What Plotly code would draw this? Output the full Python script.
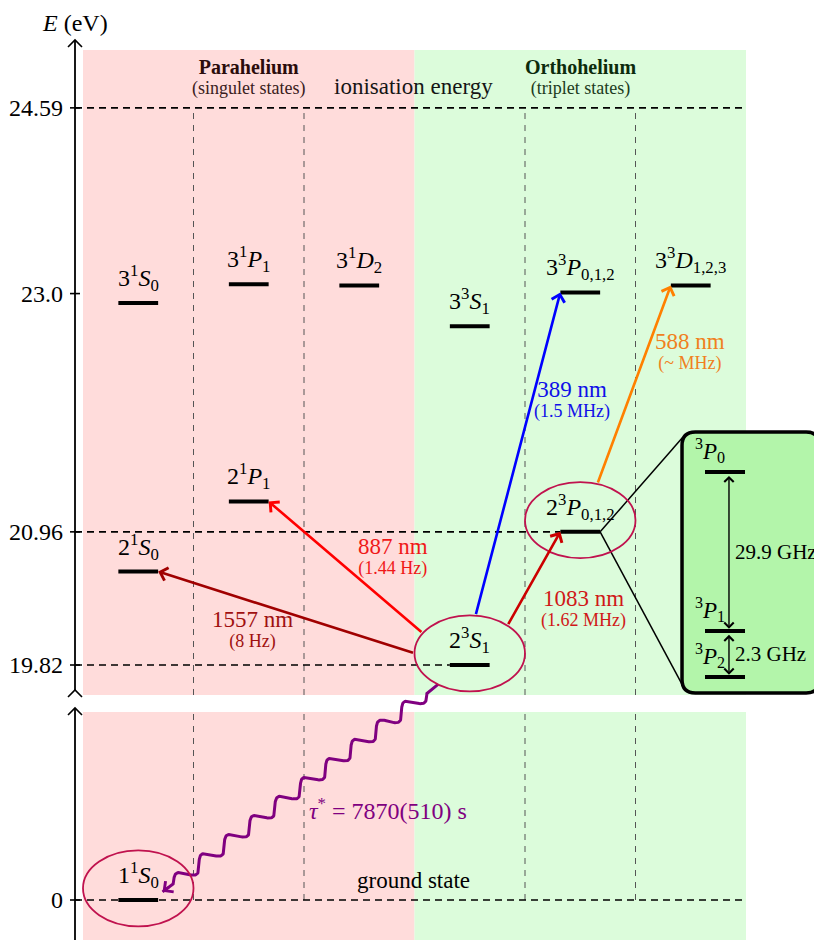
import numpy as np
import plotly.graph_objects as go

# ---------------- data ----------------
tick_energies = [24.59, 23.0, 20.96, 19.82, 0.0]
tick_labels = ["24.59", "23.0", "20.96", "19.82", "0"]

level_keys = ["11S0", "21S0", "31S0", "21P1", "31P1", "31D2",
              "23S1", "33S1", "23P", "33P", "33D"]
level_names = ["1<sup>1</sup><i>S</i><sub>0</sub>", "2<sup>1</sup><i>S</i><sub>0</sub>",
               "3<sup>1</sup><i>S</i><sub>0</sub>", "2<sup>1</sup><i>P</i><sub>1</sub>",
               "3<sup>1</sup><i>P</i><sub>1</sub>", "3<sup>1</sup><i>D</i><sub>2</sub>",
               "2<sup>3</sup><i>S</i><sub>1</sub>", "3<sup>3</sup><i>S</i><sub>1</sub>",
               "2<sup>3</sup><i>P</i><sub>0,1,2</sub>", "3<sup>3</sup><i>P</i><sub>0,1,2</sub>",
               "3<sup>3</sup><i>D</i><sub>1,2,3</sub>"]
level_column = [0, 0, 0, 1, 1, 2, 3, 3, 4, 4, 5]
level_energy = [0.0, 20.62, 22.92, 21.22, 23.08, 23.07, 19.82, 22.72, 20.96, 23.01, 23.07]

trans_from = ["23S1", "23S1", "23S1", "23P", "23S1"]
trans_to = ["21S0", "21P1", "33P", "33D", "23P"]
trans_nm = ["1557 nm", "887 nm", "389 nm", "588 nm", "1083 nm"]
trans_linewidth = ["(8 Hz)", "(1.44 Hz)", "(1.5 MHz)", "(~ MHz)", "(1.62 MHz)"]
trans_color = ["#a00000", "#ff0000", "#0000ff", "#ff8000", "#cc0000"]

circled_levels = ["23S1", "23P", "11S0"]

fine_names = ["<sup>3</sup><i>P</i><sub>0</sub>", "<sup>3</sup><i>P</i><sub>1</sub>",
              "<sup>3</sup><i>P</i><sub>2</sub>"]
fine_splits = ["29.9 GHz", "2.3 GHz"]

lifetime_text = "<i>τ</i><sup>*</sup> = 7870(510) s"
column_headers = ["Parahelium", "Orthohelium"]
column_subheaders = ["(singulet states)", "(triplet states)"]

# ---------------- layout constants ----------------
W, H = 822, 940
OFF = 8                         # page body margin in the browser
SX, SY = 110.5, 116.8           # px per column unit / px per display unit
LOWER_ZERO = 17.808             # display position of E = 0 (broken axis)
X_RANGE = [(OFF - 83) / SX, (OFF + W - 83) / SX]
Y_RANGE = [19.82 - (H + OFF - 665) / SY, 19.82 + (665 - OFF) / SY]
AXIS_PX = 75
AXIS_X = (AXIS_PX - 83) / SX
UP_TOP, UP_BOT = 25.085, 19.563
LO_TOP = 19.418
HALF_BAR = 0.18
FONT = "Liberation Serif, Times New Roman, serif"
CRIMSON = "#c0124e"
PURPLE = "#800080"

trans_start_angle = [180, 148, 84, 72, 47]
trans_end_side = [1, 1, -1, -1, -1]
trans_label_xy = [(1.538, 20.197), (2.805, 20.822), (4.425, 22.174),
                  (5.493, 22.585), (4.525, 20.377)]
trans_text_color = ["#a01010", "#f01818", "#1010e8", "#f08020", "#d01818"]

inset_y = [21.472, 20.111, 19.717]
inset_x = (5.629, 5.991)


def px(p):
    return (p - OFF) / W


def disp(e):
    return e if e > 15 else LOWER_ZERO + e


lev = {k: (c, disp(e)) for k, c, e in zip(level_keys, level_column, level_energy)}

fig = go.Figure()
shapes = []
ann = []

# backgrounds
for (x0, x1, col) in [(0, 3, "#ffdcdb"), (3, 6, "#dcfcdb")]:
    shapes.append(dict(type="rect", xref="x", yref="y", x0=x0, x1=x1, y0=UP_BOT, y1=UP_TOP,
                       fillcolor=col, line=dict(width=0), layer="below"))
    shapes.append(dict(type="rect", xref="x", yref="y", x0=x0, x1=x1, y0=Y_RANGE[0] - 1, y1=LO_TOP,
                       fillcolor=col, line=dict(width=0), layer="below"))

# column separators
for xc in [1, 2, 4, 5]:
    for (ya, yb) in [(UP_BOT, 24.59), (LOWER_ZERO, LO_TOP)]:
        shapes.append(dict(type="line", xref="x", yref="y", x0=xc, x1=xc, y0=ya, y1=yb,
                           line=dict(color="#555555", width=1, dash="6px,6px"), layer="below"))

# horizontal dashed reference lines
hlines = [(24.59, 6.0), (disp(20.96), lev["23P"][0] + 0.5 - HALF_BAR),
          (disp(19.82), lev["23S1"][0] + 0.5 - HALF_BAR), (disp(0.0), 6.0)]
for y, xe in hlines:
    shapes.append(dict(type="line", xref="x", yref="y", x0=AXIS_X, x1=xe, y0=y, y1=y,
                       line=dict(color="black", width=1.6, dash="7px,5px"), layer="below"))

# connection lines to inset
c23p, y23p = lev["23P"]
xr = c23p + 0.5 + HALF_BAR
for yb in [21.772, 19.64]:
    shapes.append(dict(type="line", xref="x", yref="y", x0=xr, x1=5.43, y0=y23p, y1=yb,
                       line=dict(color="black", width=1.5), layer="below"))

# inset box (rounded)
bx0, bx1, by0, by1, rx, ry = 5.421, 6.665, 19.580, 21.815, 0.12, 0.115
path = (f"M {bx0+rx},{by1} L {bx1-rx},{by1} Q {bx1},{by1} {bx1},{by1-ry} "
        f"L {bx1},{by0+ry} Q {bx1},{by0} {bx1-rx},{by0} L {bx0+rx},{by0} "
        f"Q {bx0},{by0} {bx0},{by0+ry} L {bx0},{by1-ry} Q {bx0},{by1} {bx0+rx},{by1} Z")
shapes.append(dict(type="path", xref="x", yref="y", path=path, fillcolor="#b3f5aa",
                   line=dict(color="black", width=3.5), layer="below"))

# energy level bars
xs, ys = [], []
for k in level_keys:
    c, y = lev[k]
    xs += [c + 0.5 - HALF_BAR, c + 0.5 + HALF_BAR, None]
    ys += [y, y, None]
for y in inset_y:
    xs += [inset_x[0], inset_x[1], None]
    ys += [y, y, None]
fig.add_trace(go.Scatter(x=xs, y=ys, mode="lines", line=dict(color="black", width=4),
                         hoverinfo="skip", showlegend=False))

# level labels
for k, name in zip(level_keys, level_names):
    c, y = lev[k]
    ann.append(dict(x=c + 0.5, y=y, text=name, showarrow=False, yshift=25,
                    font=dict(size=24, color="black")))

# ellipses
for k in circled_levels:
    c, y = lev[k]
    shapes.append(dict(type="circle", xref="x", yref="y", x0=c, x1=c + 1,
                       y0=y + 0.1 - 0.325, y1=y + 0.1 + 0.325,
                       line=dict(color=CRIMSON, width=1.8), layer="above"))

# transitions
for f, t, nm, lw, col, tcol, ang, side, (lx, ly) in zip(
        trans_from, trans_to, trans_nm, trans_linewidth, trans_color, trans_text_color,
        trans_start_angle, trans_end_side, trans_label_xy):
    cf, yf = lev[f]
    ct, yt = lev[t]
    sx = cf + 0.5 + 0.5 * np.cos(np.radians(ang))
    sy = yf + 0.1 + 0.325 * np.sin(np.radians(ang))
    ex = ct + 0.5 + side * HALF_BAR
    ann.append(dict(x=ex, y=yt, ax=sx, ay=sy, xref="x", yref="y", axref="x", ayref="y",
                    text="", showarrow=True, arrowhead=4, arrowsize=1, arrowwidth=2.6,
                    arrowcolor=col, standoff=0))
    ann.append(dict(x=lx, y=ly, yshift=-9, showarrow=False, font=dict(size=15, color=tcol),
                    text=(f"<span style='font-size:23px'>{nm}</span><br>"
                          f"<span style='font-size:18px'>{lw}</span>")))

# wavy decay arrow 2^3S1 -> 1^1S0
c0, y0 = lev["23S1"]
a = np.radians(235)
p0 = np.array([(c0 + 0.5 + 0.5 * np.cos(a)) * SX, (y0 + 0.1 + 0.325 * np.sin(a)) * SY])
c1, y1 = lev["11S0"]
p1 = np.array([(c1 + 0.5 + HALF_BAR + 0.04) * SX, (y1 + 0.07) * SY])
d = p1 - p0
L = np.hypot(*d)
u = d / L
nrm = np.array([-u[1], u[0]])
lead = 14.0
s = np.linspace(0, L, 600)
inner = (s > lead) & (s < L - lead)
off = np.where(inner, 6.5 * np.sin(2 * np.pi * 10 * (s - lead) / (L - 2 * lead)), 0.0)
pts = p0[None, :] + s[:, None] * u[None, :] + off[:, None] * nrm[None, :]
fig.add_trace(go.Scatter(x=pts[:, 0] / SX, y=pts[:, 1] / SY, mode="lines",
                         line=dict(color=PURPLE, width=3), hoverinfo="skip", showlegend=False))
back = p1 - 10 * u
ann.append(dict(x=p1[0] / SX, y=p1[1] / SY, ax=back[0] / SX, ay=back[1] / SY,
                xref="x", yref="y", axref="x", ayref="y", text="", showarrow=True,
                arrowhead=4, arrowsize=1, arrowwidth=2.6, arrowcolor=PURPLE, standoff=0))
ann.append(dict(x=2.76, y=18.587, text=lifetime_text, showarrow=False,
                font=dict(size=24, color=PURPLE)))

# inset content
for name, y in zip(fine_names, inset_y):
    ann.append(dict(x=5.674, y=y, text=name, showarrow=False, yshift=22,
                    font=dict(size=23, color="black")))
ax_in = 5.846
for i, txt in enumerate(fine_splits):
    ya, yb = inset_y[i], inset_y[i + 1]
    ann.append(dict(x=ax_in, y=yb + 0.02, ax=ax_in, ay=ya - 0.02, xref="x", yref="y",
                    axref="x", ayref="y", text="", showarrow=True, arrowside="end+start",
                    arrowhead=4, startarrowhead=4, arrowsize=1.3, startarrowsize=1.3,
                    arrowwidth=1.4, arrowcolor="black", standoff=0, startstandoff=0))
    ann.append(dict(x=ax_in + 0.035, y=(ya + yb) / 2, text=txt, showarrow=False,
                    xanchor="left", font=dict(size=21, color="black")))

# headers
for hx, h, sh, hc, sc in zip([1.5, 4.5], column_headers, column_subheaders,
                             ["#2b0c0c", "#0c2b0c"], ["#3a2020", "#203a20"]):
    ann.append(dict(x=hx, y=24.854, showarrow=False, font=dict(size=15, color=sc),
                    text=(f"<span style='font-size:20px;color:{hc}'><b>{h}</b></span><br>"
                          f"<span style='font-size:18px'>{sh}</span>")))
ann.append(dict(x=2.995, y=24.77, text="ionisation energy", showarrow=False,
                font=dict(size=23, color="#151515")))
ann.append(dict(x=2.995, y=17.979, text="ground state", showarrow=False,
                font=dict(size=23, color="black")))
ann.append(dict(x=px(75), y=1, xref="paper", yref="paper", text="<i>E</i> (eV)",
                xanchor="center", yanchor="top",
                showarrow=False, font=dict(size=24, color="black")))

# broken vertical axis (drawn)
axp = px(AXIS_PX)
dxp = 7 / W
dy = 7 / SY
y_tip = 25.171
shapes.append(dict(type="line", xref="paper", yref="y", x0=axp, x1=axp, y0=19.606, y1=y_tip,
                   line=dict(color="black", width=1.8)))
shapes.append(dict(type="line", xref="paper", yref="y", x0=axp, x1=axp, y0=Y_RANGE[0], y1=19.452,
                   line=dict(color="black", width=1.8)))
for yt in [y_tip, 19.606, 19.452]:
    shapes.append(dict(type="path", xref="paper", yref="y",
                       path=f"M {axp-dxp},{yt-dy} Q {axp-dxp*0.3},{yt-dy*0.3} {axp},{yt} "
                            f"Q {axp+dxp*0.3},{yt-dy*0.3} {axp+dxp},{yt-dy}",
                       line=dict(color="black", width=1.6)))
for e in tick_energies:
    y = disp(e)
    shapes.append(dict(type="line", xref="paper", yref="y", x0=axp - 5 / W, x1=axp + 5 / W,
                       y0=y, y1=y, line=dict(color="black", width=1.6)))

fig.update_layout(
    width=W, height=H, margin=dict(l=0, r=0, t=0, b=0),
    paper_bgcolor="white", plot_bgcolor="white", template="none",
    font=dict(family=FONT, color="black"),
    shapes=shapes, annotations=ann, showlegend=False,
    xaxis=dict(range=X_RANGE, visible=False, fixedrange=True, domain=[0, 1]),
    yaxis=dict(range=Y_RANGE, domain=[0, 1], anchor="free", position=axp,
               tickvals=[disp(e) for e in tick_energies], ticktext=tick_labels,
               showline=False, showgrid=False, zeroline=False, ticks="",
               ticklabelstandoff=12, tickfont=dict(size=24, family=FONT, color="black"),
               automargin=False, fixedrange=True),
)

fig.write_html("out.html")
